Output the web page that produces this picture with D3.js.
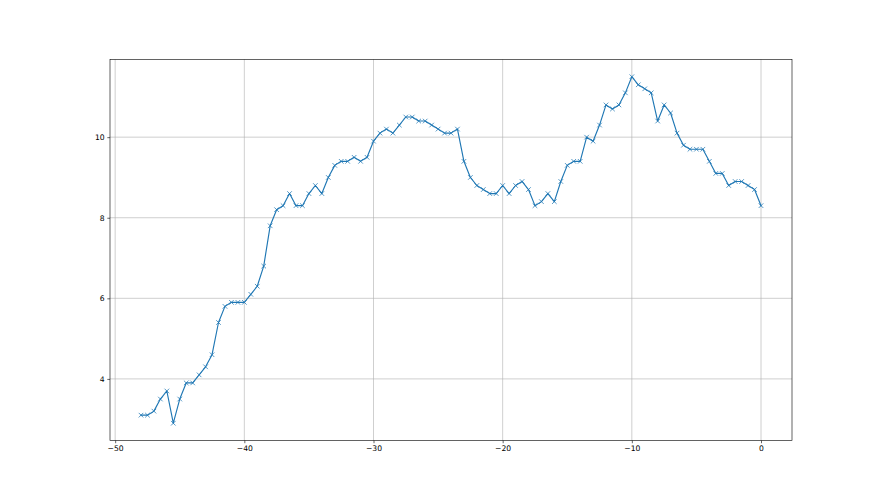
<!DOCTYPE html>
<html>
<head>
<meta charset="utf-8">
<script src="https://cdn.jsdelivr.net/npm/d3@7"></script>
<style>
  body { margin: 0; background: #fff; }
  svg { display: block; font-family: "DejaVu Sans", sans-serif; }
</style>
</head>
<body>
<div id="chart"></div>
<script>
// x positions (step 0.5) and values
const xs = [
  -48, -47.5, -47, -46.5, -46, -45.5, -45, -44.5, -44, -43.5,
  -43, -42.5, -42, -41.5, -41, -40.5, -40, -39.5, -39, -38.5,
  -38, -37.5, -37, -36.5, -36, -35.5, -35, -34.5, -34, -33.5,
  -33, -32.5, -32, -31.5, -31, -30.5, -30, -29.5, -29, -28.5,
  -28, -27.5, -27, -26.5, -26, -25.5, -25, -24.5, -24, -23.5,
  -23, -22.5, -22, -21.5, -21, -20.5, -20, -19.5, -19, -18.5,
  -18, -17.5, -17, -16.5, -16, -15.5, -15, -14.5, -14, -13.5,
  -13, -12.5, -12, -11.5, -11, -10.5, -10, -9.5, -9, -8.5,
  -8, -7.5, -7, -6.5, -6, -5.5, -5, -4.5, -4, -3.5,
  -3, -2.5, -2, -1.5, -1, -0.5, 0
];
const ys = [
  3.1, 3.1, 3.2, 3.5, 3.7, 2.9, 3.5, 3.9, 3.9, 4.1,
  4.3, 4.6, 5.4, 5.8, 5.9, 5.9, 5.9, 6.1, 6.3, 6.8,
  7.8, 8.2, 8.3, 8.6, 8.3, 8.3, 8.6, 8.8, 8.6, 9.0,
  9.3, 9.4, 9.4, 9.5, 9.4, 9.5, 9.9, 10.1, 10.2, 10.1,
  10.3, 10.5, 10.5, 10.4, 10.4, 10.3, 10.2, 10.1, 10.1, 10.2,
  9.4, 9.0, 8.8, 8.7, 8.6, 8.6, 8.8, 8.6, 8.8, 8.9,
  8.7, 8.3, 8.4, 8.6, 8.4, 8.9, 9.3, 9.4, 9.4, 10.0,
  9.9, 10.3, 10.8, 10.7, 10.8, 11.1, 11.5, 11.3, 11.2, 11.1,
  10.4, 10.8, 10.6, 10.1, 9.8, 9.7, 9.7, 9.7, 9.4, 9.1,
  9.1, 8.8, 8.9, 8.9, 8.8, 8.7, 8.3
];
const xTicks = [-50, -40, -30, -20, -10, 0];
const yTicks = [4, 6, 8, 10];

const W = 880, H = 495;
const margin = { top: 59.4, right: 88, bottom: 54.45, left: 110 };
const pt = 55 / 72;   // figure drawn at 55 dpi

const data = xs.map((x, i) => ({ x, y: ys[i] }));

// matplotlib-style 5% padding around the data
const [x0, x1] = d3.extent(xs), [y0, y1] = d3.extent(ys);
const px = (x1 - x0) * 0.05, py = (y1 - y0) * 0.05;

const x = d3.scaleLinear().domain([x0 - px, x1 + px]).range([margin.left, W - margin.right]);
const y = d3.scaleLinear().domain([y0 - py, y1 + py]).range([H - margin.bottom, margin.top]);

const svg = d3.select("#chart").append("svg").attr("width", W).attr("height", H);

// grid
svg.append("g").selectAll("line").data(xTicks).join("line")
  .attr("x1", d => x(d)).attr("x2", d => x(d))
  .attr("y1", margin.top).attr("y2", H - margin.bottom)
  .attr("stroke", "#b0b0b0").attr("stroke-width", 0.8 * pt);
svg.append("g").selectAll("line").data(yTicks).join("line")
  .attr("x1", margin.left).attr("x2", W - margin.right)
  .attr("y1", d => y(d)).attr("y2", d => y(d))
  .attr("stroke", "#b0b0b0").attr("stroke-width", 0.8 * pt);

// series line
svg.append("path").datum(data)
  .attr("fill", "none")
  .attr("stroke", "#1f77b4")
  .attr("stroke-width", 1.5 * pt)
  .attr("stroke-linejoin", "round")
  .attr("stroke-linecap", "square")
  .attr("d", d3.line().x(d => x(d.x)).y(d => y(d.y)));

// 'x' markers
const m = 3 * pt;
svg.append("g").selectAll("path").data(data).join("path")
  .attr("d", d => `M${x(d.x) - m},${y(d.y) - m}L${x(d.x) + m},${y(d.y) + m}M${x(d.x) - m},${y(d.y) + m}L${x(d.x) + m},${y(d.y) - m}`)
  .attr("stroke", "#1f77b4")
  .attr("stroke-width", 1 * pt)
  .attr("fill", "none");

// axes
const tickLen = 3.5 * pt, fontSize = 10 * pt;
const xAxis = svg.append("g")
  .attr("transform", `translate(0,${H - margin.bottom})`)
  .call(d3.axisBottom(x).tickValues(xTicks).tickSize(tickLen).tickPadding(3.5 * pt));
const yAxis = svg.append("g")
  .attr("transform", `translate(${margin.left},0)`)
  .call(d3.axisLeft(y).tickValues(yTicks).tickSize(tickLen).tickPadding(3.5 * pt));
[xAxis, yAxis].forEach(g => {
  g.select(".domain").remove();
  g.selectAll(".tick line").attr("stroke", "#000").attr("stroke-width", 0.8 * pt);
  g.selectAll("text").attr("font-size", fontSize).attr("fill", "#000")
    .attr("font-family", "DejaVu Sans, sans-serif");
});

// frame
svg.append("rect")
  .attr("x", margin.left).attr("y", margin.top)
  .attr("width", W - margin.left - margin.right)
  .attr("height", H - margin.top - margin.bottom)
  .attr("fill", "none").attr("stroke", "#000").attr("stroke-width", 0.8 * pt);
</script>
</body>
</html>
